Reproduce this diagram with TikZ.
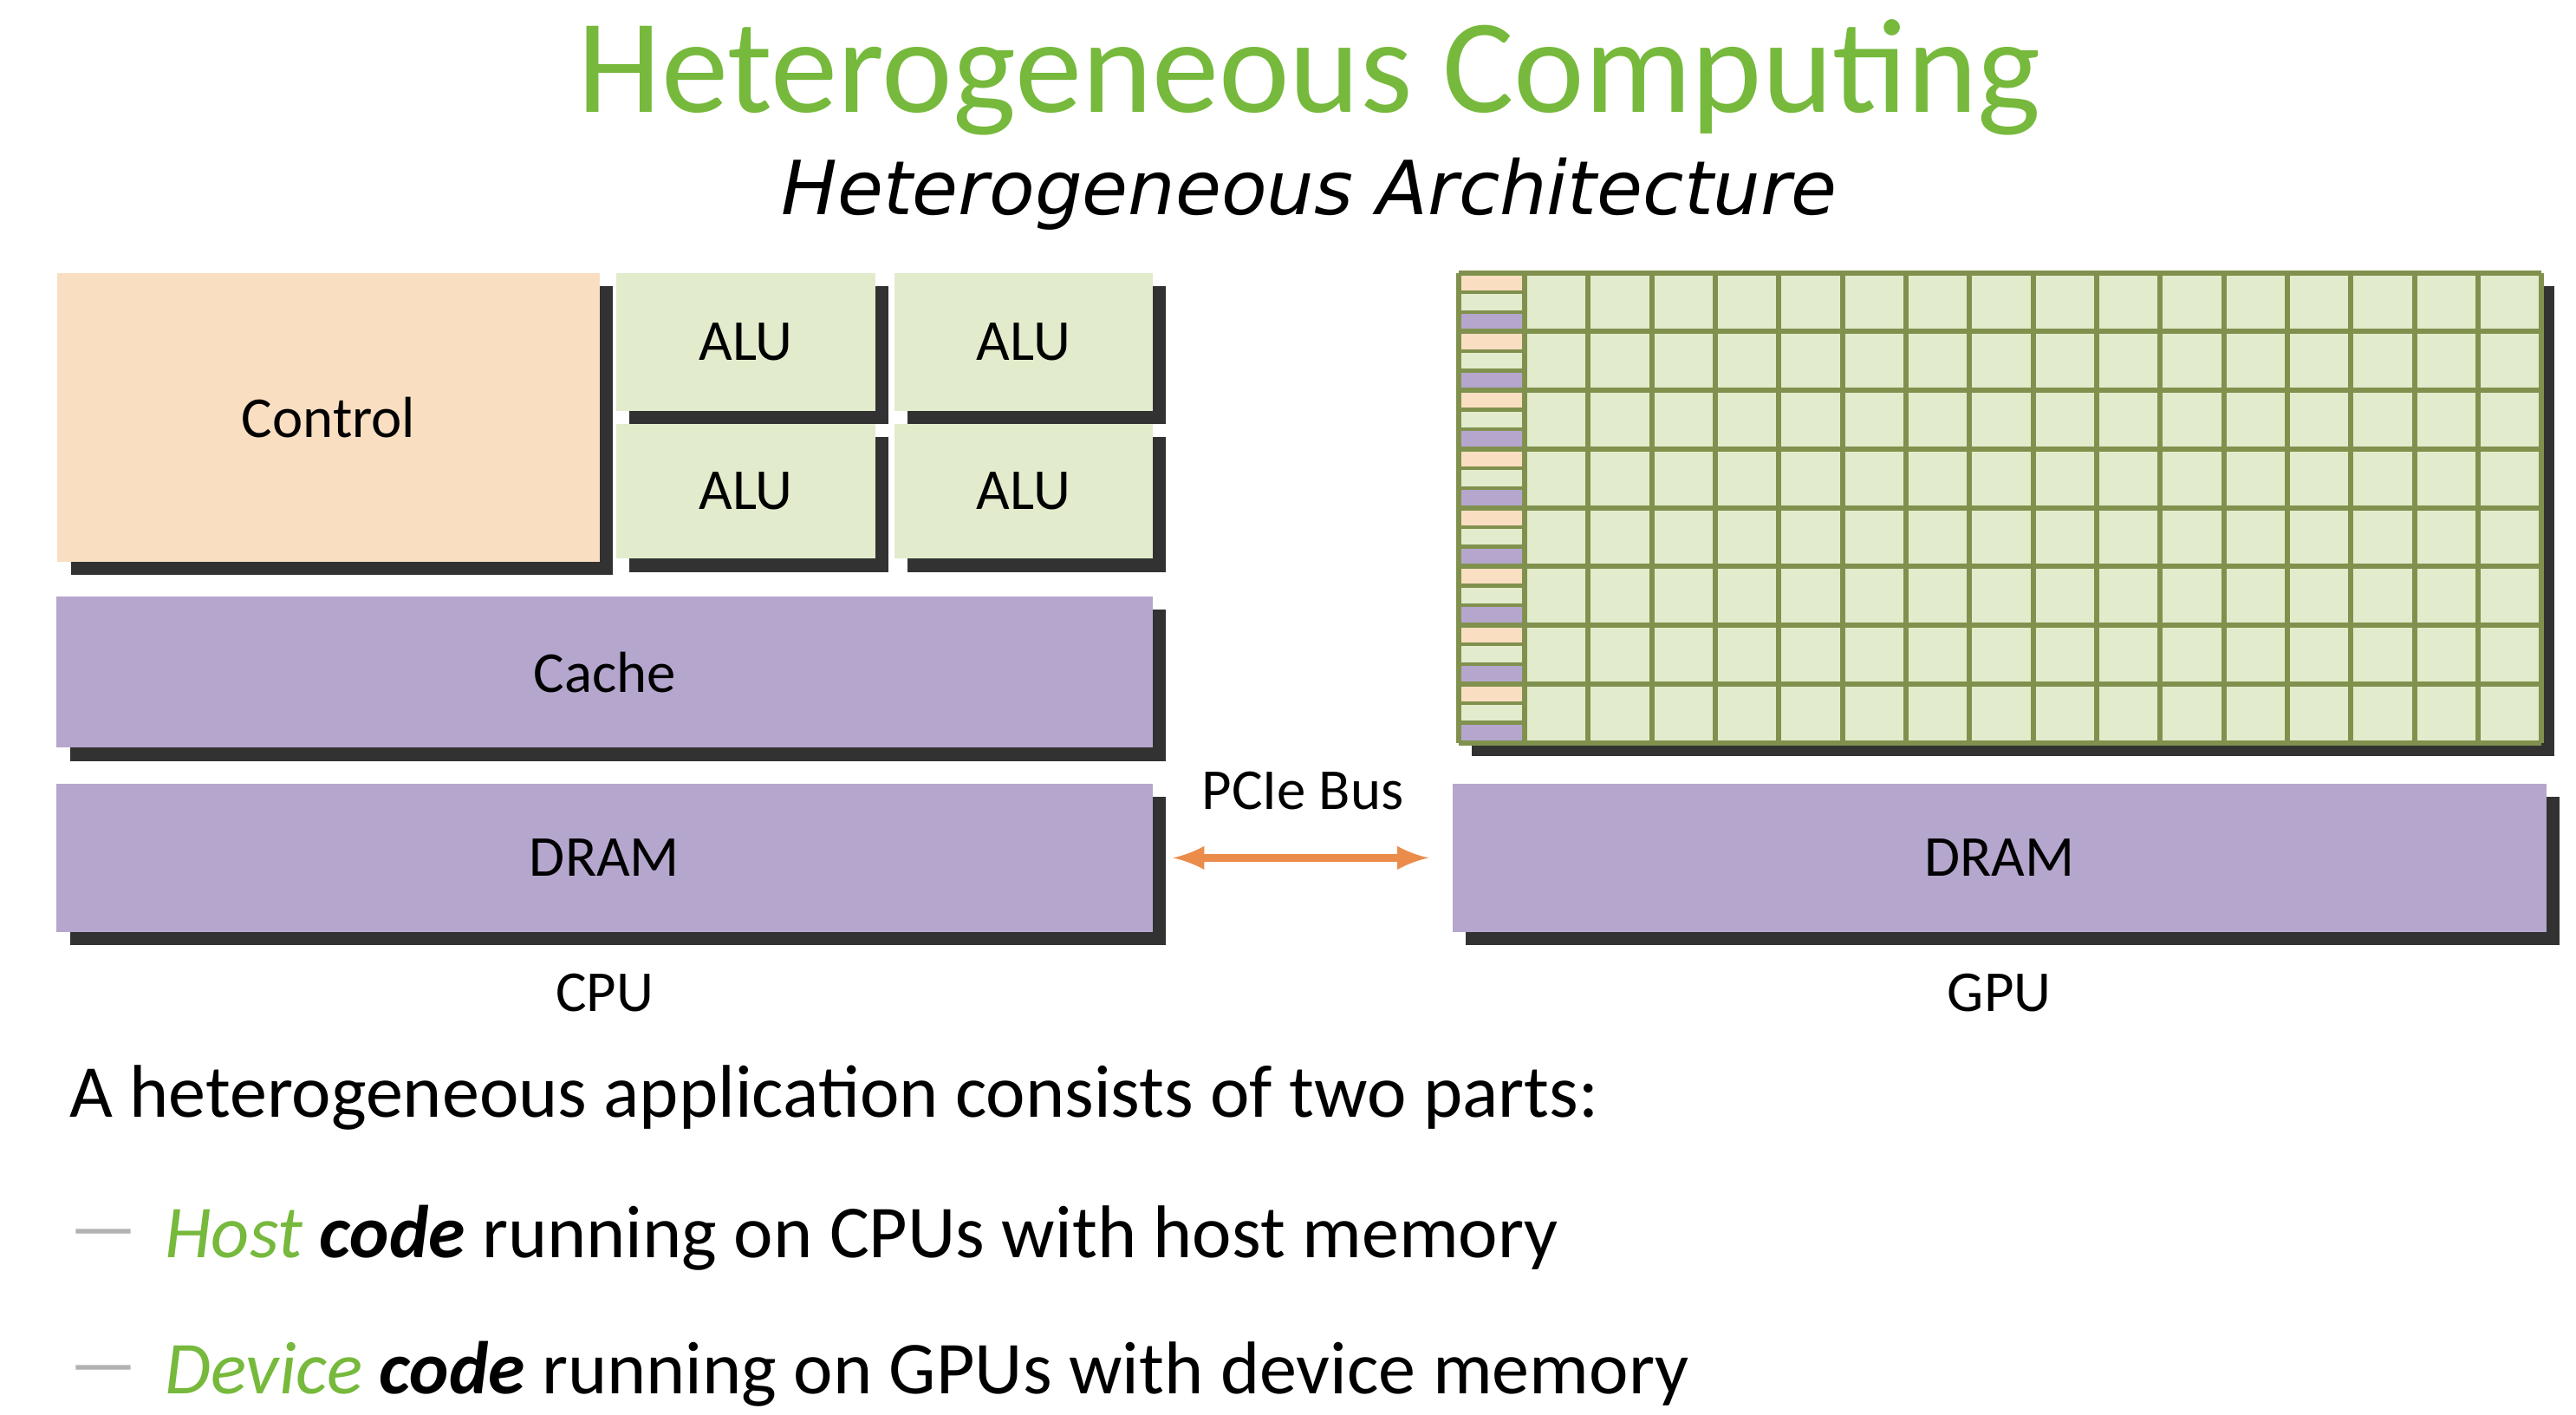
\documentclass[tikz,border=0pt]{standalone}
\usepackage{fontspec}
\setmainfont{Carlito}
\newfontfamily\subfont{DejaVu Sans}
\usetikzlibrary{shadows}
\newlength{\pxu}\setlength{\pxu}{0.01895cm}
\definecolor{titlegreen}{RGB}{118,185,60}
\definecolor{ctrlfill}{RGB}{250,222,194}
\definecolor{alufill}{RGB}{226,236,204}
\definecolor{memfill}{RGB}{181,166,206}
\definecolor{gridline}{RGB}{128,145,78}
\definecolor{busorange}{RGB}{235,140,75}
\definecolor{shadowgray}{RGB}{50,50,50}
\tikzset{
  block/.style={draw=none, inner sep=0pt, font=\fontsize{19}{22}\selectfont,
    drop shadow={shadow xshift=8\pxu, shadow yshift=-8\pxu, opacity=1, fill=shadowgray}},
  lbl/.style={font=\fontsize{19}{22}\selectfont, inner sep=0pt},
  body/.style={font=\fontsize{24.5}{28}\selectfont, anchor=west, inner sep=0pt}
}
\begin{document}
\begin{tikzpicture}[x=0.01895cm, y=-0.01895cm]
        \useasboundingbox[fill=white] (0,0) rectangle (1568,861);

        % Titles
        \node[text=titlegreen, font=\fontsize{44}{48}\selectfont] (title) at (797,47) {Heterogeneous Computing};
        \node[font=\subfont\itshape\fontsize{24.5}{28}\selectfont] (subtitle) at (797,118) {Heterogeneous Architecture};

        % CPU side
        \node[block, fill=ctrlfill, minimum width=330\pxu, minimum height=176\pxu] (ctrl) at (200,254) {Control};
        \node[block, fill=alufill, minimum width=158\pxu, minimum height=84\pxu] (alua) at (454,208) {ALU};
        \node[block, fill=alufill, minimum width=157\pxu, minimum height=84\pxu] (alub) at (623,208) {ALU};
        \node[block, fill=alufill, minimum width=158\pxu, minimum height=82\pxu] (aluc) at (454,299) {ALU};
        \node[block, fill=alufill, minimum width=157\pxu, minimum height=82\pxu] (alud) at (623,299) {ALU};
        \node[block, fill=memfill, minimum width=667\pxu, minimum height=92\pxu] (cache) at (368,409) {Cache};
        \node[block, fill=memfill, minimum width=667\pxu, minimum height=90\pxu] (cdram) at (368,522) {DRAM};
        \node[lbl] (cpu) at (368,604) {CPU};

        % GPU side
        \fill[shadowgray] (896,174) rectangle (1555,460);
        \fill[alufill] (888,166) rectangle (1547,452);
        \foreach \r in {0,...,7}
            \foreach \c/\col in {0/ctrlfill,1/alufill,2/memfill}
                \fill[\col] (888,166+\r*35.75+\c*11.9) rectangle (928,166+\r*35.75+\c*11.9+11.9);
        \foreach \r in {0,...,23}
            \draw[gridline, line width=1.2pt] (888,166+\r*11.9) -- (928,166+\r*11.9);
        \foreach \c in {0,...,16}
            \draw[gridline, line width=1.7pt] (928+\c*38.69,166) -- (928+\c*38.69,452);
        \foreach \r in {0,...,8}
            \draw[gridline, line width=1.7pt] (888,166+\r*35.75) -- (1547,166+\r*35.75);
        \draw[gridline, line width=1.7pt] (888,166) -- (888,452);
        \node[block, fill=memfill, minimum width=666\pxu, minimum height=90\pxu] (gdram) at (1217,522) {DRAM};
        \node[lbl] (gpu) at (1217,604) {GPU};

        % Bus
        \draw[busorange, line width=2.5pt, <->, >=latex, shorten <=12\pxu, shorten >=14\pxu] (cdram) -- (gdram);
        \node[lbl] (bus) at (793,481) {PCIe Bus};

        % Text
        \node[body] (intro) at (42,668) {A heterogeneous application consists of two parts:};
        \node[body, text=gray!60] (dasha) at (42,755) {---};
        \node[body] (host) at (100,753) {\textcolor{titlegreen}{\itshape Host} \textbf{\itshape code} running on CPUs with host memory};
        \node[body, text=gray!60] (dashb) at (42,838) {---};
        \node[body] (device) at (100,836) {\textcolor{titlegreen}{\itshape Device} \textbf{\itshape code} running on GPUs with device memory};
\end{tikzpicture}
\end{document}
